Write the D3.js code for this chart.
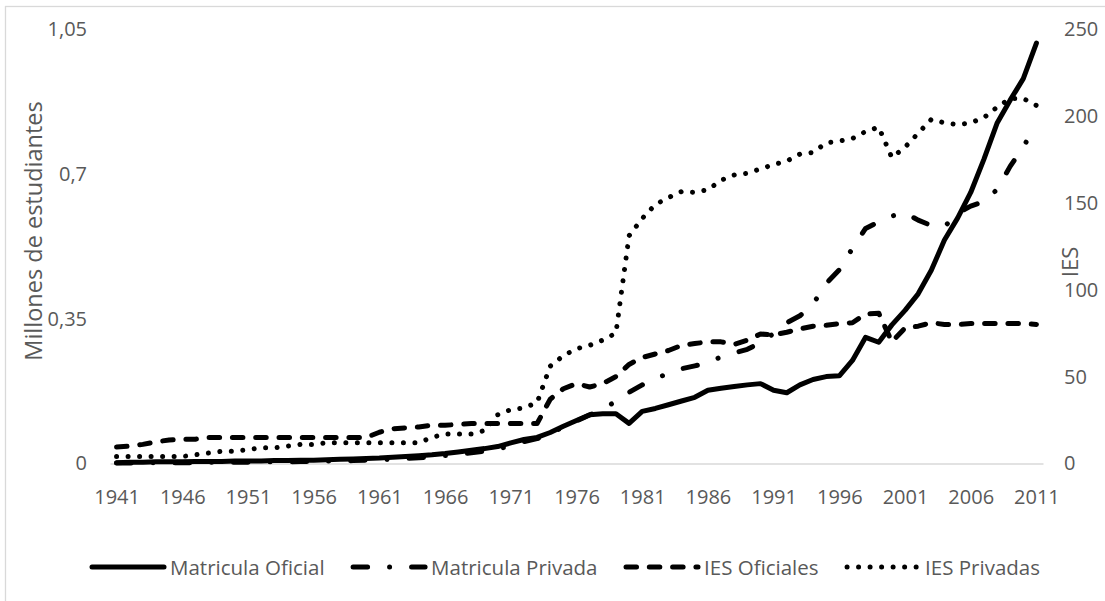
<!DOCTYPE html>
<html>
<head>
<meta charset="utf-8">
<script src="https://cdn.jsdelivr.net/npm/d3@7"></script>
<style>
  body { margin: 0; background: #fff; }
  svg text { font-family: "Open Sans", sans-serif; fill: #595959; }
</style>
</head>
<body>
<svg></svg>
<script>
// Datos (matrícula en millones, IES en número de instituciones)
const years = [
  1941, 1942, 1943, 1944, 1945, 1946, 1947, 1948, 1949, 1950,
  1951, 1952, 1953, 1954, 1955, 1956, 1957, 1958, 1959, 1960,
  1961, 1962, 1963, 1964, 1965, 1966, 1967, 1968, 1969, 1970,
  1971, 1972, 1973, 1974, 1975, 1976, 1977, 1978, 1979, 1980,
  1981, 1982, 1983, 1984, 1985, 1986, 1987, 1988, 1989, 1990,
  1991, 1992, 1993, 1994, 1995, 1996, 1997, 1998, 1999, 2000,
  2001, 2002, 2003, 2004, 2005, 2006, 2007, 2008, 2009, 2010,
  2011
];
const tickYears = [1941, 1946, 1951, 1956, 1961, 1966, 1971, 1976, 1981, 1986, 1991, 1996, 2001, 2006, 2011];

const matriculaOficial = [
  0.002, 0.003, 0.003, 0.004, 0.004, 0.004, 0.005, 0.005, 0.005, 0.006,
  0.006, 0.006, 0.007, 0.007, 0.008, 0.008, 0.009, 0.010, 0.011, 0.012,
  0.013, 0.015, 0.017, 0.019, 0.021, 0.024, 0.028, 0.032, 0.036, 0.041,
  0.050, 0.058, 0.063, 0.075, 0.090, 0.104, 0.118, 0.120, 0.120, 0.097,
  0.126, 0.133, 0.142, 0.151, 0.160, 0.177, 0.182, 0.186, 0.190, 0.193,
  0.177, 0.171, 0.190, 0.203, 0.210, 0.212, 0.249, 0.305, 0.293, 0.335,
  0.370, 0.410, 0.467, 0.540, 0.593, 0.655, 0.735, 0.822, 0.878, 0.930,
  1.016
];
const matriculaPrivada = [
  0.001, 0.001, 0.001, 0.002, 0.002, 0.002, 0.002, 0.003, 0.003, 0.003,
  0.003, 0.004, 0.004, 0.004, 0.005, 0.005, 0.006, 0.006, 0.007, 0.008,
  0.009, 0.010, 0.012, 0.014, 0.016, 0.019, 0.022, 0.026, 0.030, 0.035,
  0.043, 0.053, 0.060, 0.073, 0.088, 0.103, 0.117, 0.132, 0.150, 0.172,
  0.190, 0.205, 0.218, 0.229, 0.236, 0.243, 0.258, 0.267, 0.276, 0.292,
  0.314, 0.340, 0.357, 0.385, 0.435, 0.468, 0.520, 0.568, 0.584, 0.598,
  0.606, 0.588, 0.575, 0.572, 0.605, 0.622, 0.633, 0.662, 0.718, 0.765,
  0.820
];
const iesOficiales = [
  9.5, 10, 11, 12.5, 13.5, 14, 14, 15, 15, 15,
  15, 15, 15, 15, 15, 15, 15, 15, 15, 15,
  18, 20, 20.5, 21, 22, 22, 22.5, 23, 23, 23,
  23, 23, 23, 37, 43, 46, 44, 46, 50, 57,
  61, 63, 65, 68, 69, 70, 70, 68.5, 71, 74.5,
  74, 75.5, 77.5, 79, 79.5, 80.5, 81, 86, 86.5, 70,
  78, 79, 81, 80, 80, 80.5, 80.5, 80.5, 80.5, 80.5,
  80
];
const iesPrivadas = [
  4, 4, 4, 4, 4, 4, 5, 6, 7, 7,
  8, 9, 9, 10, 11, 11, 12, 12, 12, 12,
  12, 12, 12, 12, 15, 17, 17, 17, 19, 28,
  31, 32, 35, 56, 62, 66, 68, 71, 75, 131,
  141, 149, 153, 156.5, 156, 157.5, 163, 166, 167, 169.5,
  172, 174, 178, 179, 184.5, 185.5, 187, 191, 193.5, 176,
  182, 190, 198, 196, 195, 196, 199, 205, 210, 210,
  206
];

const leftTicks = [0, 0.35, 0.7, 1.05];
const rightTicks = [0, 50, 100, 150, 200, 250];
const seriesNames = ["Matricula Oficial", "Matricula Privada", "IES Oficiales", "IES Privadas"];

window.onload = function () {
    const width = 1105;
    const height = 601;
    const plot = { left: 110, right: 1043, top: 29, bottom: 463.5 };

    const svg = d3.select("svg")
        .attr("width", width)
        .attr("height", height);

    // Borde del área del gráfico (solo se ven arriba e izquierda)
    svg.append("rect")
        .attr("x", 5.5)
        .attr("y", 6.5)
        .attr("width", 1300)
        .attr("height", 800)
        .attr("fill", "none")
        .attr("stroke", "#d9d9d9")
        .attr("stroke-width", 1.3);

    // Escalas
    const x = d3.scalePoint()
        .domain(years)
        .range([plot.left, plot.right])
        .padding(0.5);

    const yLeft = d3.scaleLinear()
        .domain([0, 1.05])
        .range([plot.bottom, plot.top]);

    const yRight = d3.scaleLinear()
        .domain([0, 250])
        .range([plot.bottom, plot.top]);

    const comma = d => String(d).replace(".", ",");

    // Eje X
    const xAxis = svg.append("g")
        .attr("transform", `translate(0, ${plot.bottom})`)
        .call(d3.axisBottom(x).tickValues(tickYears).tickSize(0).tickSizeOuter(0).tickPadding(26));
    xAxis.select(".domain").attr("stroke", "#d9d9d9").attr("stroke-width", 1.5);
    xAxis.selectAll("text").style("font-size", "20px").attr("fill", "#595959");

    // Eje Y izquierdo
    const yAxisL = svg.append("g")
        .attr("transform", `translate(${plot.left}, 0)`)
        .call(d3.axisLeft(yLeft).tickValues(leftTicks).tickFormat(comma).tickSize(0).tickPadding(23));
    yAxisL.select(".domain").remove();
    yAxisL.selectAll("text").style("font-size", "20px").attr("fill", "#595959");

    // Eje Y derecho
    const yAxisR = svg.append("g")
        .attr("transform", `translate(${plot.right}, 0)`)
        .call(d3.axisRight(yRight).tickValues(rightTicks).tickSize(0).tickPadding(21));
    yAxisR.select(".domain").remove();
    yAxisR.selectAll("text").style("font-size", "20px").attr("fill", "#595959");

    // Títulos de los ejes
    svg.append("text")
        .attr("transform", "translate(33, 231) rotate(-90)")
        .attr("text-anchor", "middle")
        .attr("dominant-baseline", "central")
        .style("font-size", "23.5px")
        .text("Millones de estudiantes");

    svg.append("text")
        .attr("transform", "translate(1069, 262) rotate(-90)")
        .attr("text-anchor", "middle")
        .attr("dominant-baseline", "central")
        .style("font-size", "22px")
        .text("IES");

    // Estilos de línea de cada serie
    const styles = [
        { dash: null },
        { dash: "14.5,22,0.01,22" },
        { dash: "10.5,12.8" },
        { dash: "0.01,11.5" }
    ];

    const series = [
        { values: matriculaOficial, scale: yLeft },
        { values: matriculaPrivada, scale: yLeft },
        { values: iesOficiales, scale: yRight },
        { values: iesPrivadas, scale: yRight }
    ];

    series.forEach((s, k) => {
        const line = d3.line()
            .x((d, i) => x(years[i]))
            .y(d => s.scale(d));
        svg.append("path")
            .datum(s.values)
            .attr("d", line)
            .attr("fill", "none")
            .attr("stroke", "#000")
            .attr("stroke-width", 5)
            .attr("stroke-linejoin", "round")
            .attr("stroke-linecap", "round")
            .attr("stroke-dasharray", styles[k].dash);
    });

    // Leyenda
    const legendY = 567;
    const sampleLen = 72;
    const gap = 6;
    const spacing = 28.5;

    const legend = svg.append("g");
    const items = seriesNames.map((name, k) => {
        const g = legend.append("g");
        g.append("line")
            .attr("x1", 0).attr("x2", sampleLen)
            .attr("y1", legendY).attr("y2", legendY)
            .attr("stroke", "#000")
            .attr("stroke-width", 5)
            .attr("stroke-linecap", "round")
            .attr("stroke-dasharray", styles[k].dash);
        const t = g.append("text")
            .attr("x", sampleLen + gap)
            .attr("y", legendY)
            .attr("dominant-baseline", "central")
            .style("font-size", "20.5px")
            .text(name);
        return { g: g, w: sampleLen + gap + t.node().getComputedTextLength() };
    });

    const total = d3.sum(items, d => d.w) + spacing * (items.length - 1);
    let cursor = 566 - total / 2;
    items.forEach(it => {
        it.g.attr("transform", `translate(${cursor}, 0)`);
        cursor += it.w + spacing;
    });
};
</script>
</body>
</html>
